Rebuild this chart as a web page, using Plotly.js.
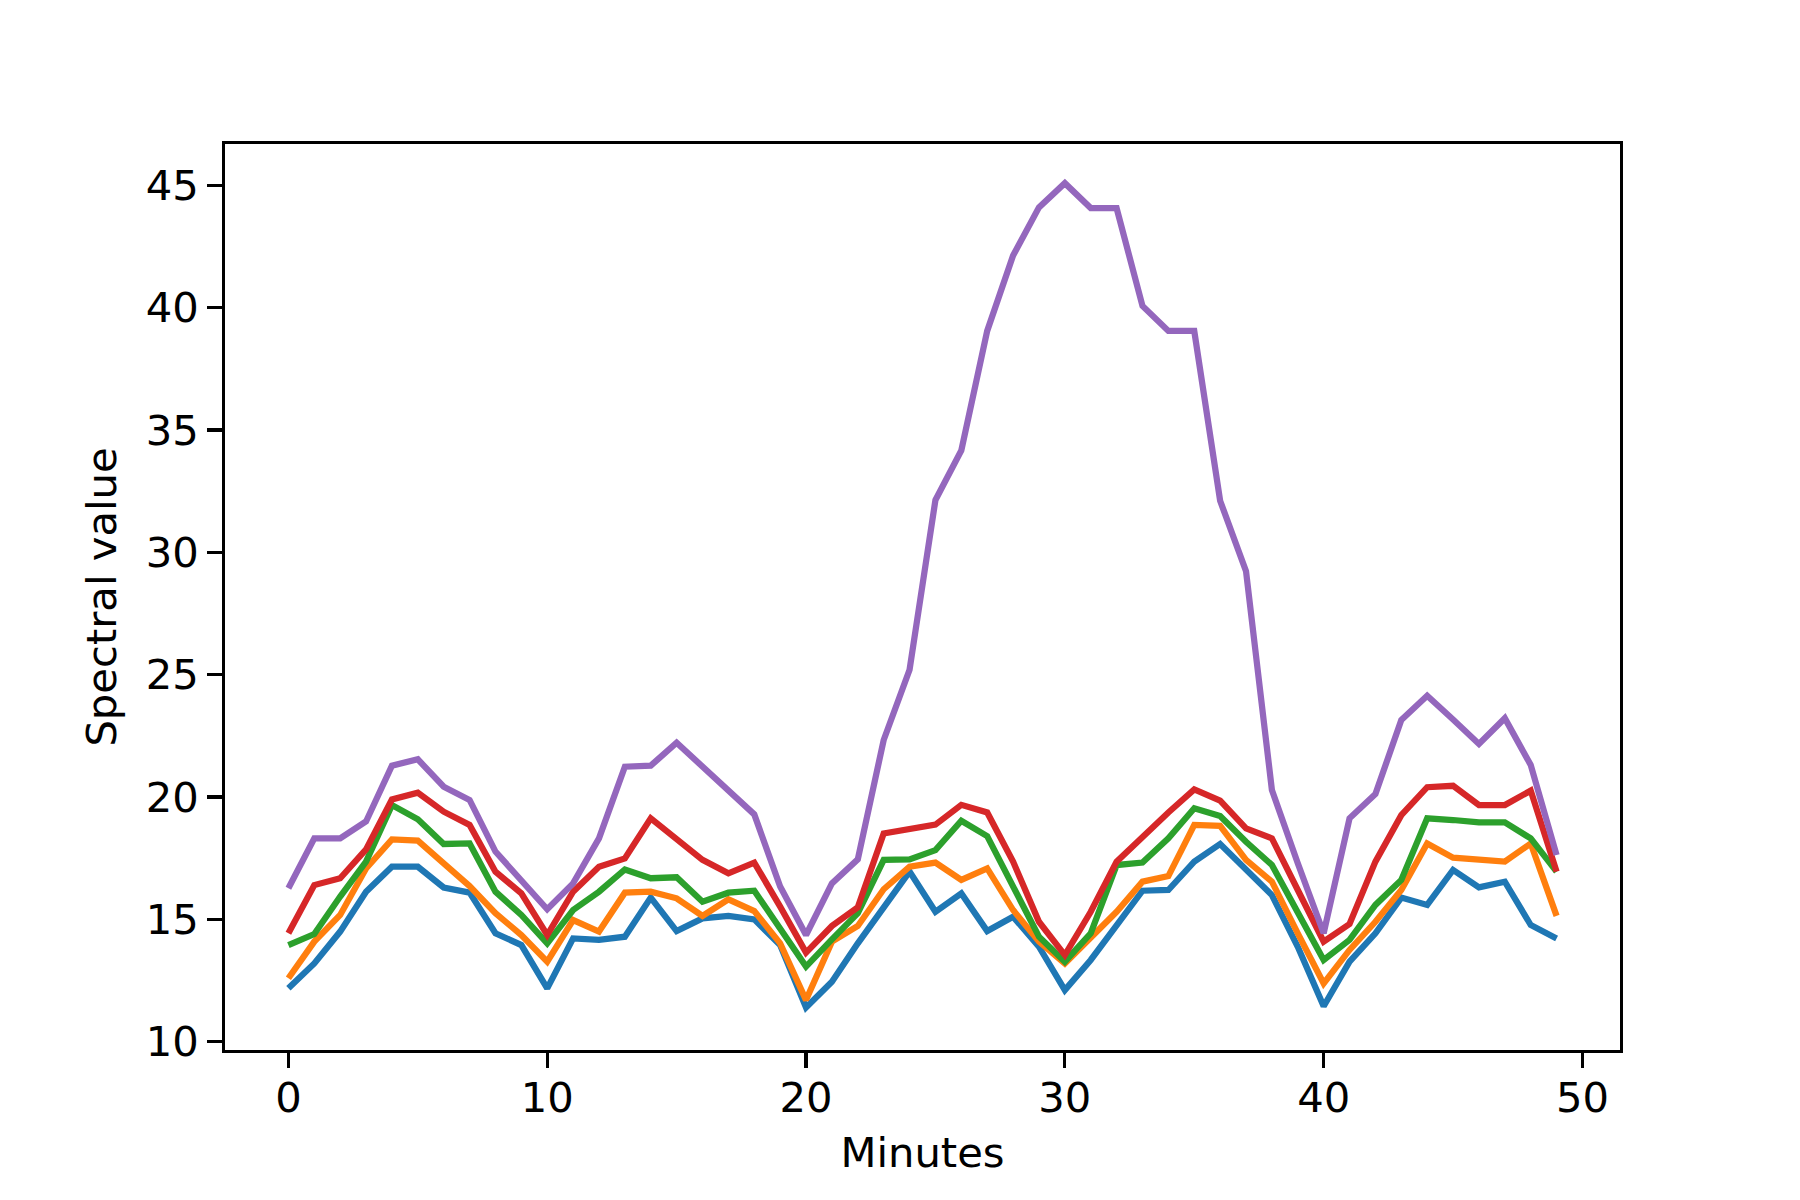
<!DOCTYPE html>
<html>
<head>
<meta charset="utf-8">
<script src="https://cdn.plot.ly/plotly-3.0.1.min.js"></script>
<style>html,body{margin:0;padding:0;background:#fff;}#chart{width:1800px;height:1200px;}</style>
</head>
<body>
<div id="chart"></div>
<script>
const minutes = Array.from({length: 50}, (_, i) => i);

const series1 = [12.18,13.2,14.5,16.13,17.15,17.15,16.3,16.09,14.43,13.95,
  12.18,14.22,14.16,14.29,15.89,14.52,15.04,15.14,15.0,13.95,
  11.4,12.45,14.02,15.52,16.95,15.31,16.06,14.52,15.11,13.88,
  12.11,13.34,14.77,16.17,16.2,17.36,18.08,17.02,15.99,13.88,
  11.45,13.27,14.43,15.89,15.59,17.02,16.31,16.54,14.77,14.22];

const series2 = [12.59,14.09,15.18,17.08,18.27,18.22,17.29,16.36,15.25,14.36,
  13.27,14.97,14.5,16.09,16.13,15.86,15.14,15.82,15.34,14.02,
  11.7,14.09,14.73,16.23,17.15,17.32,16.61,17.08,15.38,14.09,
  13.2,14.22,15.31,16.54,16.77,18.86,18.82,17.43,16.54,14.43,
  12.38,13.75,14.9,16.2,18.1,17.52,17.43,17.36,18.1,15.14];

const series3 = [13.95,14.4,15.93,17.36,19.67,19.09,18.08,18.1,16.13,15.18,
  14.02,15.38,16.13,17.04,16.68,16.72,15.72,16.09,16.17,14.63,
  13.07,14.18,15.25,17.43,17.45,17.83,19.03,18.4,16.34,14.29,
  13.27,14.43,17.22,17.32,18.31,19.54,19.22,18.17,17.22,15.25,
  13.34,14.16,15.59,16.61,19.13,19.06,18.96,18.96,18.31,16.95];

const series4 = [14.43,16.4,16.68,17.86,19.9,20.18,19.4,18.86,16.95,16.06,
  14.36,16.13,17.15,17.49,19.13,18.27,17.43,16.88,17.32,15.52,
  13.64,14.73,15.49,18.51,18.72,18.87,19.68,19.37,17.36,14.9,
  13.54,15.31,17.36,18.38,19.37,20.31,19.85,18.72,18.31,16.2,
  14.09,14.81,17.36,19.26,20.4,20.46,19.67,19.67,20.26,16.95];

const series5 = [16.27,18.31,18.31,19.0,21.28,21.54,20.42,19.88,17.77,16.6,
  15.41,16.47,18.31,21.24,21.28,22.22,21.24,20.29,19.29,16.34,
  14.36,16.47,17.45,22.33,25.2,32.14,34.17,39.05,42.13,44.1,
  45.09,44.07,44.07,40.07,39.05,39.05,32.11,29.23,20.29,17.29,
  14.43,19.13,20.12,23.15,24.14,23.17,22.17,23.22,21.31,17.63];

const xTicks = [0, 10, 20, 30, 40, 50];
const yTicks = [10, 15, 20, 25, 30, 35, 40, 45];

const allSeries = [series1, series2, series3, series4, series5];
const colors = ['#1f77b4', '#ff7f0e', '#2ca02c', '#d62728', '#9467bd'];

const traces = allSeries.map((s, k) => ({
  x: minutes, y: s, type: 'scatter', mode: 'lines',
  line: {color: colors[k], width: 6.25, shape: 'linear'},
  showlegend: false, hoverinfo: 'skip'
}));

const fontFam = 'DejaVu Sans, sans-serif';
const axisCommon = {
  showgrid: false, zeroline: false,
  showline: true, linecolor: '#000', linewidth: 3.3, mirror: true,
  ticks: 'outside', ticklen: 14.6, tickwidth: 3.3, tickcolor: '#000',
  tickfont: {family: fontFam, size: 41.7, color: '#000'},
  tickmode: 'array'
};

const layout = {
  width: 1800, height: 1200,
  paper_bgcolor: '#fff', plot_bgcolor: '#fff',
  margin: {l: 225, r: 180, t: 144, b: 150, pad: 0},
  showlegend: false,
  xaxis: Object.assign({}, axisCommon, {
    range: [-2.45, 51.45], tickvals: xTicks, ticktext: xTicks.map(String),
    ticklabelstandoff: -6,
    title: {text: 'Minutes', font: {family: fontFam, size: 41.7, color: '#000'}, standoff: 18}
  }),
  yaxis: Object.assign({}, axisCommon, {
    range: [9.66, 46.69], tickvals: yTicks, ticktext: yTicks.map(String),
    title: {text: 'Spectral value', font: {family: fontFam, size: 41.7, color: '#000'}, standoff: 17}
  })
};

Plotly.newPlot('chart', traces, layout, {staticPlot: true, displayModeBar: false});
</script>
</body>
</html>
